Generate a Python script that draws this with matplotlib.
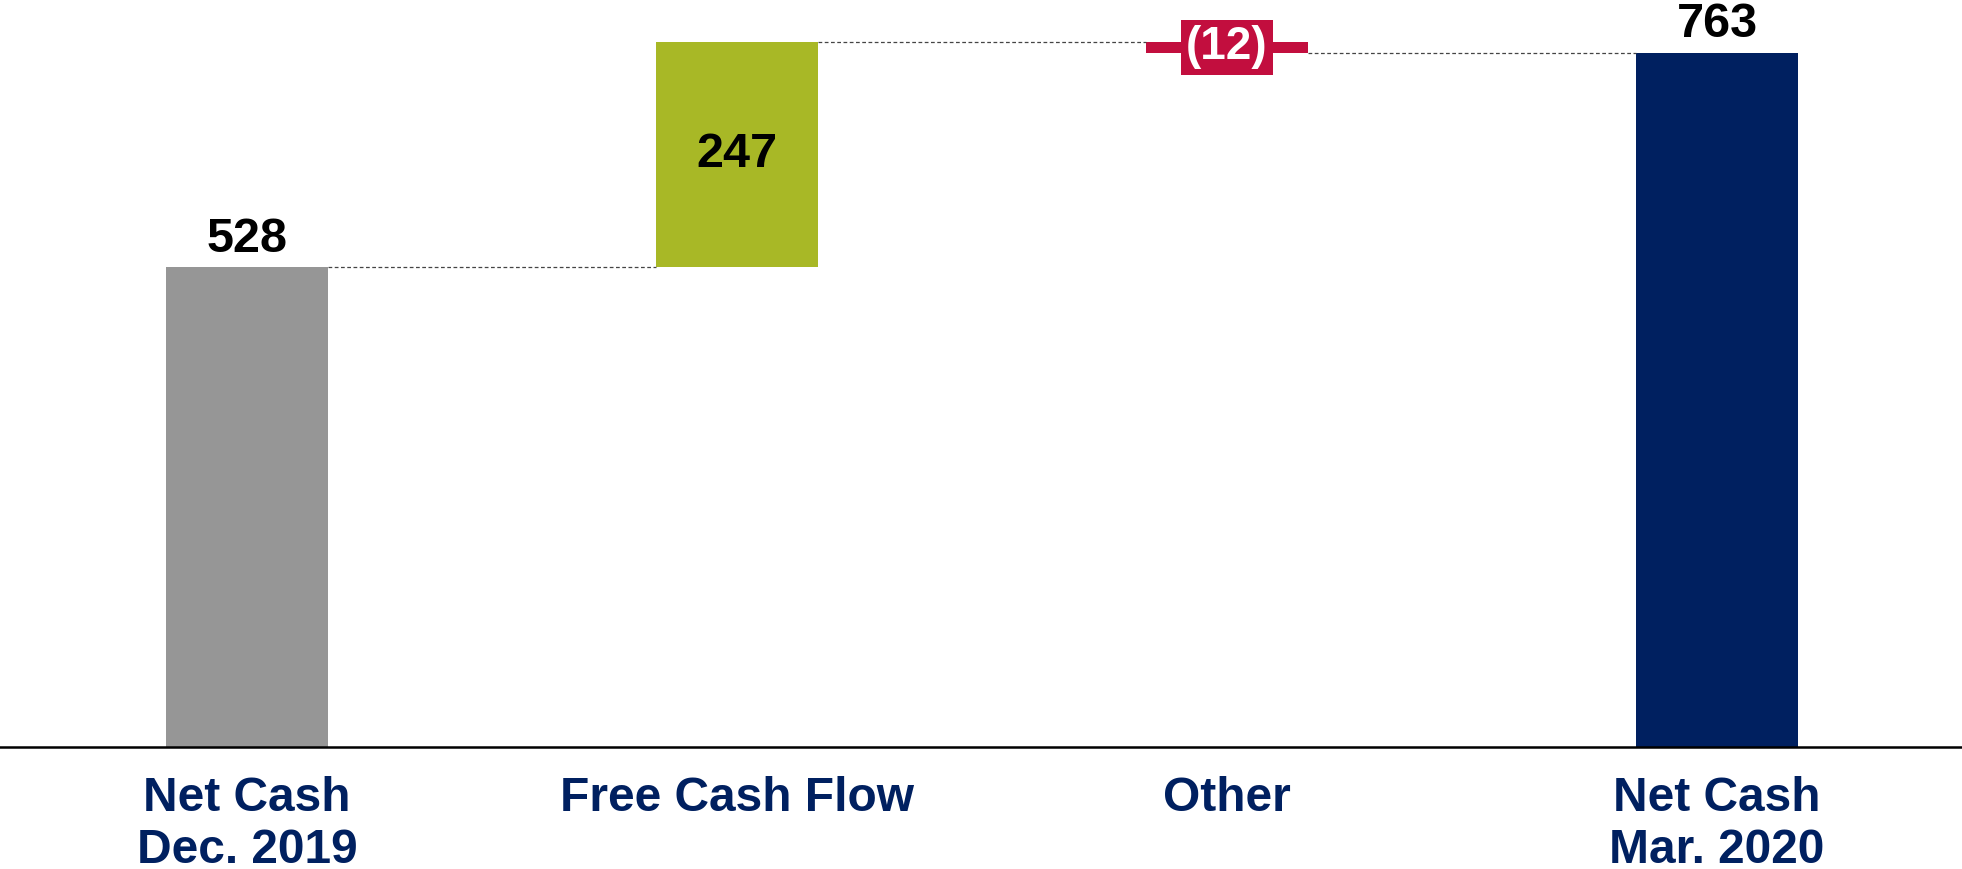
import numpy as np
import matplotlib
matplotlib.use("Agg")
import matplotlib.pyplot as plt

# Net cash bridge, Dec. 2019 -> Mar. 2020
categories = ["Net Cash\nDec. 2019", "Free Cash Flow", "Other", "Net Cash\nMar. 2020"]
start_value = 528
changes = [247, -12]
end_value = 763

GREY = "#969696"
GREEN = "#A8B826"
RED = "#C20E3E"
NAVY = "#002060"

plt.rcParams["font.family"] = ["Liberation Sans", "DejaVu Sans"]
plt.rcParams["font.weight"] = "bold"

fig = plt.figure(figsize=(19.62, 8.69), dpi=100)
ax = fig.add_axes([0, 0.1404, 1, 0.8596])

x = np.arange(len(categories))
width = 0.33

# bar bottoms / heights for the waterfall
bottoms = [0]
heights = [start_value]
level = start_value
for c in changes:
    bottoms.append(min(level, level + c))
    heights.append(abs(c))
    level += c
bottoms.append(0)
heights.append(end_value)
colors = [GREY, GREEN, RED, NAVY]

ax.bar(x, heights, width, bottom=bottoms, color=colors, linewidth=0)

# dashed connectors between neighbouring bars
levels = [start_value]
for c in changes:
    levels.append(levels[-1] + c)
for i in range(len(categories) - 1):
    y = levels[i]
    if i == len(categories) - 2:
        y = end_value
    ax.plot([x[i] + width / 2, x[i + 1] - width / 2], [y, y],
            ls=(0, (3, 2)), lw=0.9, color="#444444")

# value labels
ax.annotate(f"{start_value}", (x[0], start_value), xytext=(0, 3),
            textcoords="offset points", ha="center", va="bottom",
            fontsize=35, fontweight="bold", color="black")
ax.text(x[1], start_value + changes[0] / 2, f"{changes[0]}", ha="center",
        va="center", fontsize=35, fontweight="bold", color="black")
ax.text(x[2], start_value + changes[0] + changes[1] / 2, f"({abs(changes[1])})",
        ha="center", va="center", fontsize=33, fontweight="bold", color="white",
        bbox=dict(boxstyle="square,pad=0.12", fc=RED, ec="none"))
ax.annotate(f"{end_value}", (x[3], end_value), xytext=(0, 4.5),
            textcoords="offset points", ha="center", va="bottom",
            fontsize=35, fontweight="bold", color="black")

ax.set_xlim(-0.504, 3.5)
ax.set_ylim(0, 821)
ax.set_xticks(x)
ax.set_xticklabels(categories, fontsize=34.5, fontweight="bold", color=NAVY,
                   linespacing=1.2)
ax.tick_params(axis="x", length=0, pad=21)
ax.set_yticks([])
for side in ["left", "right", "top"]:
    ax.spines[side].set_visible(False)
ax.spines["bottom"].set_linewidth(1.8)
ax.spines["bottom"].set_color("black")

fig.savefig("out.png", dpi=100)
